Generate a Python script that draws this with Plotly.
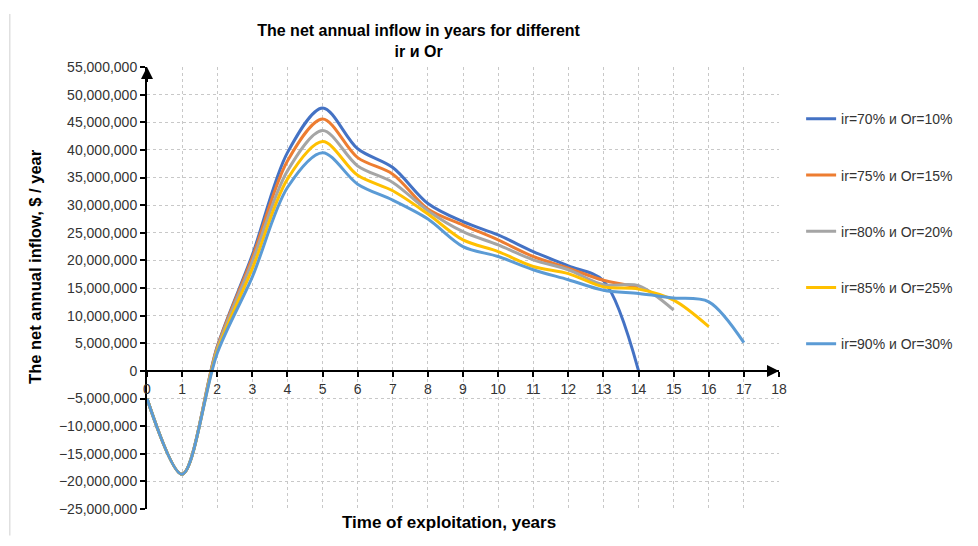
import plotly.graph_objects as go

years = list(range(0, 18))

series_names = [
    "ir=70% и Or=10%",
    "ir=75% и Or=15%",
    "ir=80% и Or=20%",
    "ir=85% и Or=25%",
    "ir=90% и Or=30%",
]
colors = ["#4472C4", "#ED7D31", "#A5A5A5", "#FFC000", "#5B9BD5"]

ir70 = [-5.0e6, -18.7e6, 4.4e6, 21.0e6, 39.5e6, 47.6e6, 40.2e6, 36.8e6, 30.3e6, 27.0e6,
        24.6e6, 21.6e6, 19.0e6, 16.3e6, 0.0]
ir75 = [-5.0e6, -18.7e6, 4.3e6, 20.5e6, 38.0e6, 45.6e6, 38.6e6, 35.6e6, 29.3e6, 26.4e6,
        23.7e6, 20.7e6, 18.6e6, 16.4e6, 15.2e6]
ir80 = [-5.0e6, -18.7e6, 4.0e6, 19.8e6, 36.2e6, 43.5e6, 37.1e6, 34.1e6, 29.0e6, 25.2e6,
        22.8e6, 20.1e6, 18.3e6, 15.6e6, 15.4e6, 11.0e6]
ir85 = [-5.0e6, -18.7e6, 3.6e6, 18.5e6, 34.7e6, 41.5e6, 35.4e6, 32.6e6, 28.4e6, 23.7e6,
        21.6e6, 18.9e6, 17.6e6, 15.2e6, 14.8e6, 12.8e6, 8.0e6]
ir90 = [-5.0e6, -18.7e6, 3.2e6, 17.0e6, 33.2e6, 39.5e6, 33.8e6, 30.9e6, 27.5e6, 22.5e6,
        20.7e6, 18.3e6, 16.5e6, 14.6e6, 14.0e6, 13.2e6, 12.5e6, 5.1e6]

all_series = [ir70, ir75, ir80, ir85, ir90]

y_min, y_max, y_step = -25e6, 55e6, 5e6
x_min, x_max = 0, 18

fig = go.Figure()
for i, (name, vals, col) in enumerate(zip(series_names, all_series, colors)):
    fig.add_trace(go.Scatter(
        x=years[:len(vals)], y=vals, name=name, mode="lines",
        line=dict(color=col, width=3, shape="spline", smoothing=0.9),
        legendgroup=f"g{i}",
    ))

font_family = "Liberation Sans, Arial, sans-serif"
label_color = "#333333"

fig.update_layout(
    width=978, height=546,
    margin=dict(l=147, r=199, t=67, b=37),
    paper_bgcolor="white", plot_bgcolor="white",
    font=dict(family=font_family, size=14, color=label_color),
    title=dict(
        text="<b>The net annual inflow in years for different<br>ir и Or</b>",
        x=0.428, xanchor="center", xref="container",
        y=0.934, yanchor="top", yref="container",
        font=dict(size=16, color="black", family=font_family),
    ),
    legend=dict(
        x=1.035, xanchor="left", y=0.918, yanchor="top",
        font=dict(size=14, color=label_color),
        tracegroupgap=35, itemwidth=30,
        bgcolor="rgba(0,0,0,0)",
    ),
    showlegend=True,
    xaxis=dict(
        range=[x_min, x_max], dtick=1, tick0=0,
        anchor="free", position=(0 - y_min) / (y_max - y_min),
        showline=True, linecolor="black", linewidth=2,
        ticks="outside", ticklen=5, tickcolor="black", tickwidth=2,
        showgrid=True, gridcolor="#c8c8c8", griddash="dot", gridwidth=1,
        zeroline=False,
        tickfont=dict(size=14, color=label_color),
    ),
    yaxis=dict(
        range=[y_min, y_max], dtick=y_step, tick0=0,
        tickformat=",d",
        showline=True, linecolor="black", linewidth=2,
        ticks="outside", ticklen=5, tickcolor="black", tickwidth=2,
        showgrid=True, gridcolor="#c8c8c8", griddash="dot", gridwidth=1,
        zeroline=False,
        tickfont=dict(size=14, color=label_color),
    ),
)

# y-axis title (placed slightly above the plot centre, as in the original)
fig.add_annotation(
    text="<b>The net annual inflow, $ / year</b>",
    xref="paper", yref="paper", x=-0.177, y=0.548, textangle=-90,
    xanchor="center", yanchor="middle",
    showarrow=False, font=dict(size=16.5, color="black", family=font_family),
)

# x-axis title placed at the bottom of the chart
fig.add_annotation(
    text="<b>Time of exploitation, years</b>",
    xref="paper", yref="paper", x=0.478, y=-0.005, yanchor="top",
    showarrow=False, font=dict(size=17, color="black", family=font_family),
)

# axis arrows
fig.add_annotation(x=x_max, y=0, ax=x_max - 0.6, ay=0, xref="x", yref="y",
                   axref="x", ayref="y", text="", showarrow=True,
                   arrowhead=2, arrowsize=1.2, arrowwidth=2, arrowcolor="black")
fig.add_annotation(x=0, y=y_max, ax=0, ay=y_max - 3e6, xref="x", yref="y",
                   axref="x", ayref="y", text="", showarrow=True,
                   arrowhead=2, arrowsize=1.2, arrowwidth=2, arrowcolor="black")

# faint chart border on the left
fig.add_shape(type="line", xref="paper", yref="paper",
              x0=-0.217, x1=-0.217, y0=-0.06, y1=1.12,
              line=dict(color="#d0d0d0", width=1))

fig.write_html("out.html")
